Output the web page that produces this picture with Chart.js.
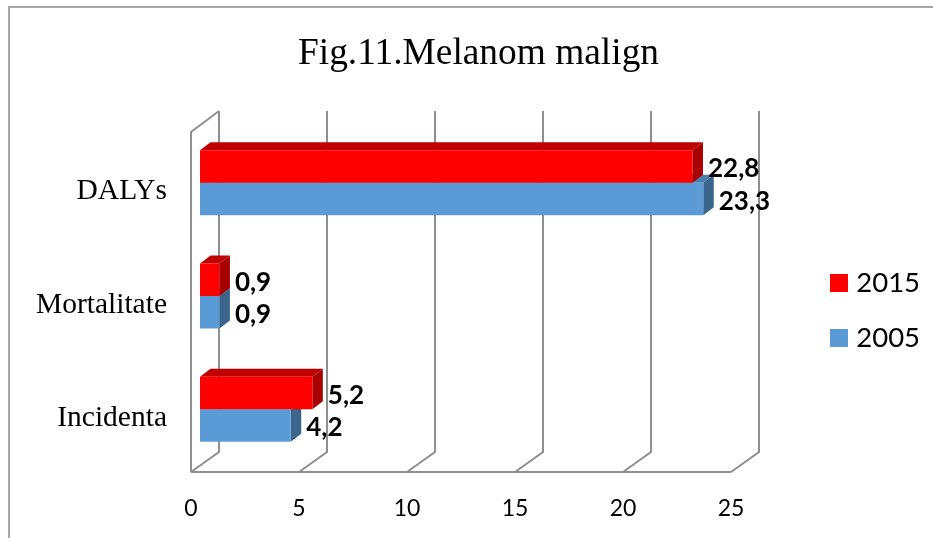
<!DOCTYPE html>
<html>
<head>
<meta charset="utf-8">
<title>Fig.11.Melanom malign</title>
<script src="https://cdn.jsdelivr.net/npm/chart.js@4/dist/chart.umd.min.js"></script>
<style>
  html, body { margin: 0; padding: 0; background: #fff; }
  canvas { display: block; }
</style>
</head>
<body>
<canvas id="chart" width="933" height="538"></canvas>
<script>
// -------------------- Data --------------------
const categories = ["DALYs", "Mortalitate", "Incidenta"];
const seriesNames = ["2015", "2005"];
const values2015 = [22.8, 0.9, 5.2];
const values2005 = [23.3, 0.9, 4.2];
const xTicks = [0, 5, 10, 15, 20, 25];

// -------------------- Colors and 3D look --------------------
const front = ["#ff0000", "#5b9bd5"];
const top3d = ["#c00000", "#4a7eae"];
const side3d = ["#a80000", "#3b658c"];
const gridColor = "#8f8f8f";
const frameColor = "#a6a6a6";

const wallDx = 28, wallDy = 20;   // depth of the chart box
const barDx = 10.5, barDy = 8;    // depth of a bar
const barShiftX = 9, barShiftY = -6; // bars stand inside the box

function line(ctx, pts) {
  ctx.beginPath();
  pts.forEach((p, i) => i ? ctx.lineTo(p[0], p[1]) : ctx.moveTo(p[0], p[1]));
  ctx.stroke();
}

function poly(ctx, color, pts) {
  ctx.fillStyle = color;
  ctx.beginPath();
  pts.forEach((p, i) => i ? ctx.lineTo(p[0], p[1]) : ctx.moveTo(p[0], p[1]));
  ctx.closePath();
  ctx.fill();
}

// Legend squares, drawn as images so the gap to the text can be set
function square(color) {
  const c = document.createElement("canvas");
  c.width = c.height = 18;
  const g = c.getContext("2d");
  g.fillStyle = color;
  g.fillRect(0, 0, 18, 18);
  return c;
}
const squares = front.map(square);

// -------------------- Frame and back wall --------------------
const wallPlugin = {
  id: "wall",
  beforeDatasetsDraw(chart) {
    const { ctx, chartArea: a, scales } = chart;
    ctx.save();
    ctx.strokeStyle = frameColor;
    ctx.lineWidth = 2;
    line(ctx, [[9, 538], [9, 7], [933, 7]]);

    ctx.strokeStyle = gridColor;
    line(ctx, [[a.left, a.bottom], [a.left, a.top], [a.left + wallDx, a.top - wallDy - 1]]);
    line(ctx, [[a.left, a.bottom], [a.right, a.bottom]]);
    xTicks.forEach(t => {
      const x = scales.x.getPixelForValue(t);
      line(ctx, [
        [x, a.bottom],
        [x + wallDx, a.bottom - wallDy],
        [x + wallDx, a.top - wallDy - 1]
      ]);
    });
    ctx.restore();
  }
};

// -------------------- Bars with depth --------------------
const depthPlugin = {
  id: "depth",
  beforeDatasetDraw(chart, args) {
    const { ctx } = chart;
    ctx.save();
    ctx.translate(barShiftX, barShiftY);
    args.meta.data.forEach(el => {
      const yT = el.y - el.height / 2;
      const yB = el.y + el.height / 2;
      poly(ctx, top3d[args.index], [
        [el.base, yT], [el.base + barDx, yT - barDy], [el.x + barDx, yT - barDy], [el.x, yT]
      ]);
      poly(ctx, side3d[args.index], [
        [el.x, yT], [el.x + barDx, yT - barDy], [el.x + barDx, yB - barDy], [el.x, yB]
      ]);
    });
  },
  afterDatasetDraw(chart) {
    chart.ctx.restore();
  },
  afterDatasetsDraw(chart) {
    const { ctx } = chart;
    ctx.save();
    ctx.fillStyle = "#000";
    ctx.font = "bold 26px Lato";
    ctx.textAlign = "left";
    ctx.textBaseline = "middle";
    chart.data.datasets.forEach((ds, i) => {
      chart.getDatasetMeta(i).data.forEach((el, j) => {
        const label = String(ds.data[j]).replace(".", ",");
        ctx.fillText(label, el.x + barShiftX + barDx + 5, el.y + barShiftY + 2.5);
      });
    });
    ctx.restore();
  }
};

// -------------------- Title and legend placement --------------------
const placePlugin = {
  id: "place",
  afterLayout(chart) {
    const t = chart.titleBlock;
    t.left = 278;
    t.right = 679;

    const l = chart.legend;
    const pad = l.options.labels.padding;
    l.left = 835.5 - pad;
    l.right = 933;
    l.top = 269 - pad;
    l.bottom = 400;
  }
};

new Chart(document.getElementById("chart"), {
  type: "bar",
  data: {
    labels: categories,
    datasets: [
      { label: seriesNames[0], data: values2015, backgroundColor: front[0], clip: false },
      { label: seriesNames[1], data: values2005, backgroundColor: front[1], clip: false }
    ]
  },
  options: {
    indexAxis: "y",
    responsive: false,
    animation: false,
    categoryPercentage: 0.5735,
    barPercentage: 1,
    layout: { padding: { left: 0, right: 202, top: 0, bottom: 0 } },
    scales: {
      x: {
        min: 0,
        max: 25,
        afterFit: s => { s.height = 66; },
        afterBuildTicks: s => { s.ticks = xTicks.map(v => ({ value: v })); },
        grid: { display: false, drawTicks: false },
        border: { display: false },
        ticks: {
          padding: 23,
          maxRotation: 0,
          color: "#000",
          font: { family: "Lato", size: 23 }
        }
      },
      y: {
        afterFit: s => { s.width = 191; },
        grid: { display: false, drawTicks: false },
        border: { display: false },
        ticks: {
          padding: 24,
          labelOffset: 3,
          color: "#000",
          font: { family: "Liberation Serif", size: 29.5 }
        }
      }
    },
    plugins: {
      title: {
        display: true,
        text: "Fig.11.Melanom malign",
        color: "#000",
        font: { family: "Liberation Serif", size: 37.4, weight: "normal" },
        padding: { top: 32, bottom: 55.1 }
      },
      legend: {
        position: "chartArea",
        align: "start",
        labels: {
          color: "#000",
          font: { family: "Lato", size: 27.5 },
          usePointStyle: true,
          pointStyleWidth: 7,
          padding: 27.6,
          generateLabels: chart =>
            Chart.defaults.plugins.legend.labels.generateLabels(chart)
              .map((item, i) => ({ ...item, pointStyle: squares[i] }))
        }
      },
      tooltip: { enabled: false }
    }
  },
  plugins: [wallPlugin, depthPlugin, placePlugin]
});
</script>
</body>
</html>
